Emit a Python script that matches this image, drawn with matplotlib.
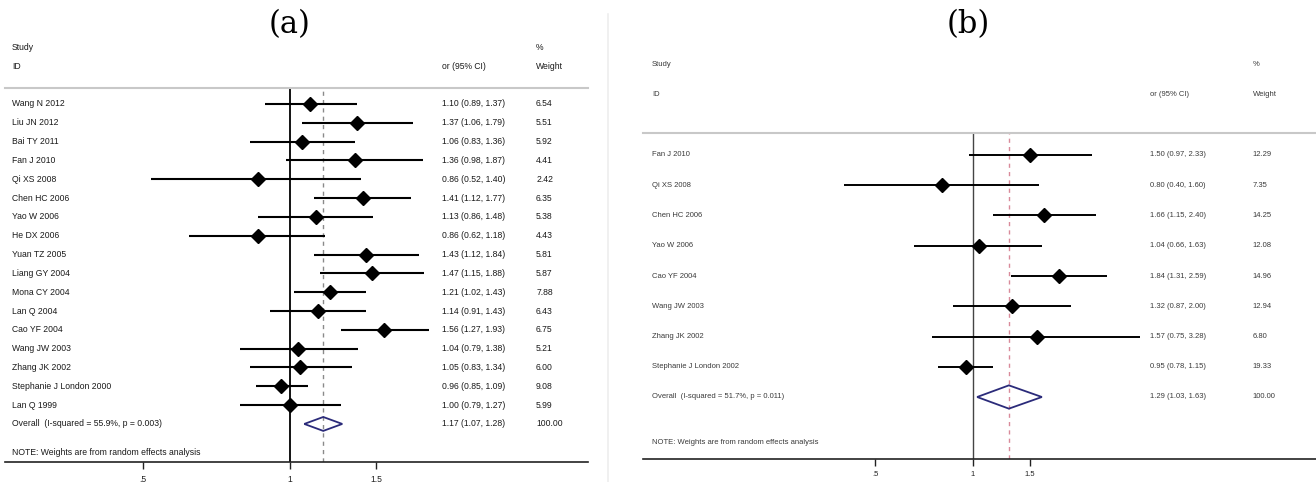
import numpy as np
import matplotlib
matplotlib.use('Agg')
import matplotlib.pyplot as plt
from matplotlib.lines import Line2D
from matplotlib.patches import Polygon
import matplotlib.transforms as mtransforms

plt.rcParams['font.family'] = ['Liberation Sans Narrow', 'Liberation Sans', 'DejaVu Sans']

# ---- panel (a) data ----
studies_a = ['Wang N 2012', 'Liu JN 2012', 'Bai TY 2011', 'Fan J 2010', 'Qi XS 2008',
             'Chen HC 2006', 'Yao W 2006', 'He DX 2006', 'Yuan TZ 2005', 'Liang GY 2004',
             'Mona CY 2004', 'Lan Q 2004', 'Cao YF 2004', 'Wang JW 2003', 'Zhang JK 2002',
             'Stephanie J London 2000', 'Lan Q 1999']
or_a = [1.10, 1.37, 1.06, 1.36, 0.86, 1.41, 1.13, 0.86, 1.43, 1.47, 1.21, 1.14, 1.56, 1.04, 1.05, 0.96, 1.00]
lo_a = [0.89, 1.06, 0.83, 0.98, 0.52, 1.12, 0.86, 0.62, 1.12, 1.15, 1.02, 0.91, 1.27, 0.79, 0.83, 0.85, 0.79]
hi_a = [1.37, 1.79, 1.36, 1.87, 1.40, 1.77, 1.48, 1.18, 1.84, 1.88, 1.43, 1.43, 1.93, 1.38, 1.34, 1.09, 1.27]
weight_a = [6.54, 5.51, 5.92, 4.41, 2.42, 6.35, 5.38, 4.43, 5.81, 5.87, 7.88, 6.43, 6.75, 5.21, 6.00, 9.08, 5.99]
overall_a = [1.17, 1.07, 1.28]
overall_label_a = 'Overall  (I-squared = 55.9%, p = 0.003)'

# ---- panel (b) data ----
studies_b = ['Fan J 2010', 'Qi XS 2008', 'Chen HC 2006', 'Yao W 2006', 'Cao YF 2004',
             'Wang JW 2003', 'Zhang JK 2002', 'Stephanie J London 2002']
or_b = [1.50, 0.80, 1.66, 1.04, 1.84, 1.32, 1.57, 0.95]
lo_b = [0.97, 0.40, 1.15, 0.66, 1.31, 0.87, 0.75, 0.78]
hi_b = [2.33, 1.60, 2.40, 1.63, 2.59, 2.00, 3.28, 1.15]
weight_b = [12.29, 7.35, 14.25, 12.08, 14.96, 12.94, 6.80, 19.33]
overall_b = [1.29, 1.03, 1.63]
overall_label_b = 'Overall  (I-squared = 51.7%, p = 0.011)'

ticks = [0.5, 1, 1.5]
tick_labels = ['.5', '1', '1.5']

W, H = 1316, 482
fig = plt.figure(figsize=(W / 100, H / 100), dpi=100)


def forest(x0, x1, y_top, y_bot, row0, rowstep, xmin, xmax,
           studies, ors, los, his, weights, overall, overall_label,
           fs, txtcol, nullcol, refcol, lw, msize, dhalf, cols):
    ax = fig.add_axes([x0 / W, 1 - y_bot / H, (x1 - x0) / W, (y_bot - y_top) / H])
    ax.set_xscale('log')
    ax.set_xlim(xmin, xmax)
    ax.set_ylim((y_bot - row0) / rowstep, (y_top - row0) / rowstep)
    for s in ['left', 'right']:
        ax.spines[s].set_visible(False)
    ax.spines['top'].set_color('#c8c8c8')
    ax.spines['top'].set_linewidth(1.5)
    ax.spines['bottom'].set_color('#222222')
    ax.spines['bottom'].set_linewidth(1.2)
    ax.set_yticks([])
    ax.set_xticks(ticks)
    ax.set_xticklabels(tick_labels)
    ax.minorticks_off()
    ax.tick_params(axis='x', direction='out', length=5, width=1, labelsize=fs,
                   colors='#222222', pad=4)

    ax.axvline(1, color=nullcol, lw=1.3 if nullcol == 'black' else 1.0, zorder=1)
    ax.axvline(overall[0], color=refcol, lw=1.0, ls=(0, (3, 3)), zorder=1)

    rows = np.arange(len(studies))
    ax.hlines(rows, los, his, color='black', lw=lw, zorder=2)
    ax.plot(ors, rows, 'D', color='black', ms=msize, zorder=3)

    yo = len(studies)
    diamond = Polygon([[overall[1], yo], [overall[0], yo - dhalf], [overall[2], yo],
                       [overall[0], yo + dhalf]], closed=True, fill=False,
                      edgecolor='#2b2b7a', lw=1.3, zorder=3)
    ax.add_patch(diamond)

    tr = mtransforms.blended_transform_factory(ax.transAxes, ax.transData)
    kw = dict(transform=tr, fontsize=fs, color=txtcol, va='center', clip_on=False)
    cx_name, cx_or, cx_w = cols
    ax.text(cx_name, -3, 'Study', **kw)
    ax.text(cx_name, -2, 'ID', **kw)
    ax.text(cx_or, -2, 'or (95% CI)', **kw)
    ax.text(cx_w, -3, '%', **kw)
    ax.text(cx_w, -2, 'Weight', **kw)
    for i, name in enumerate(studies):
        ax.text(cx_name, i, name, **kw)
        ax.text(cx_or, i, '%.2f (%.2f, %.2f)' % (ors[i], los[i], his[i]), **kw)
        ax.text(cx_w, i, '%.2f' % weights[i], **kw)
    ax.text(cx_name, yo, overall_label, **kw)
    ax.text(cx_or, yo, '%.2f (%.2f, %.2f)' % tuple(overall), **kw)
    ax.text(cx_w, yo, '100.00', **kw)
    ax.text(cx_name, yo + 1.5, 'NOTE: Weights are from random effects analysis', **kw)
    return ax


forest(5, 588, 88, 462, 104, 18.82, 0.2607, 4.08,
       studies_a, or_a, lo_a, hi_a, weight_a, overall_a, overall_label_a,
       fs=6.2, txtcol='#1a1a1a', nullcol='black', refcol='#8a8a8a', lw=1.5, msize=7.5,
       dhalf=0.37, cols=(0.012, 0.75, 0.911))

forest(643, 1316, 133, 459, 155, 30.25, 0.0963, 11.39,
       studies_b, or_b, lo_b, hi_b, weight_b, overall_b, overall_label_b,
       fs=5.5, txtcol='#3a3a3a', nullcol='#444444', refcol='#d98a9a', lw=1.4, msize=7.5,
       dhalf=0.385, cols=(0.0134, 0.753, 0.906))

fig.text(290 / W, 1 - 25 / H, '(a)', fontsize=22, family=['DejaVu Serif'],
         ha='center', va='center')
fig.text(968 / W, 1 - 25 / H, '(b)', fontsize=22, family=['DejaVu Serif'],
         ha='center', va='center')
fig.add_artist(Line2D([608 / W, 608 / W], [0.0, 0.97], color='#eeeeee', lw=1.2))

fig.savefig('out.png', dpi=100)
